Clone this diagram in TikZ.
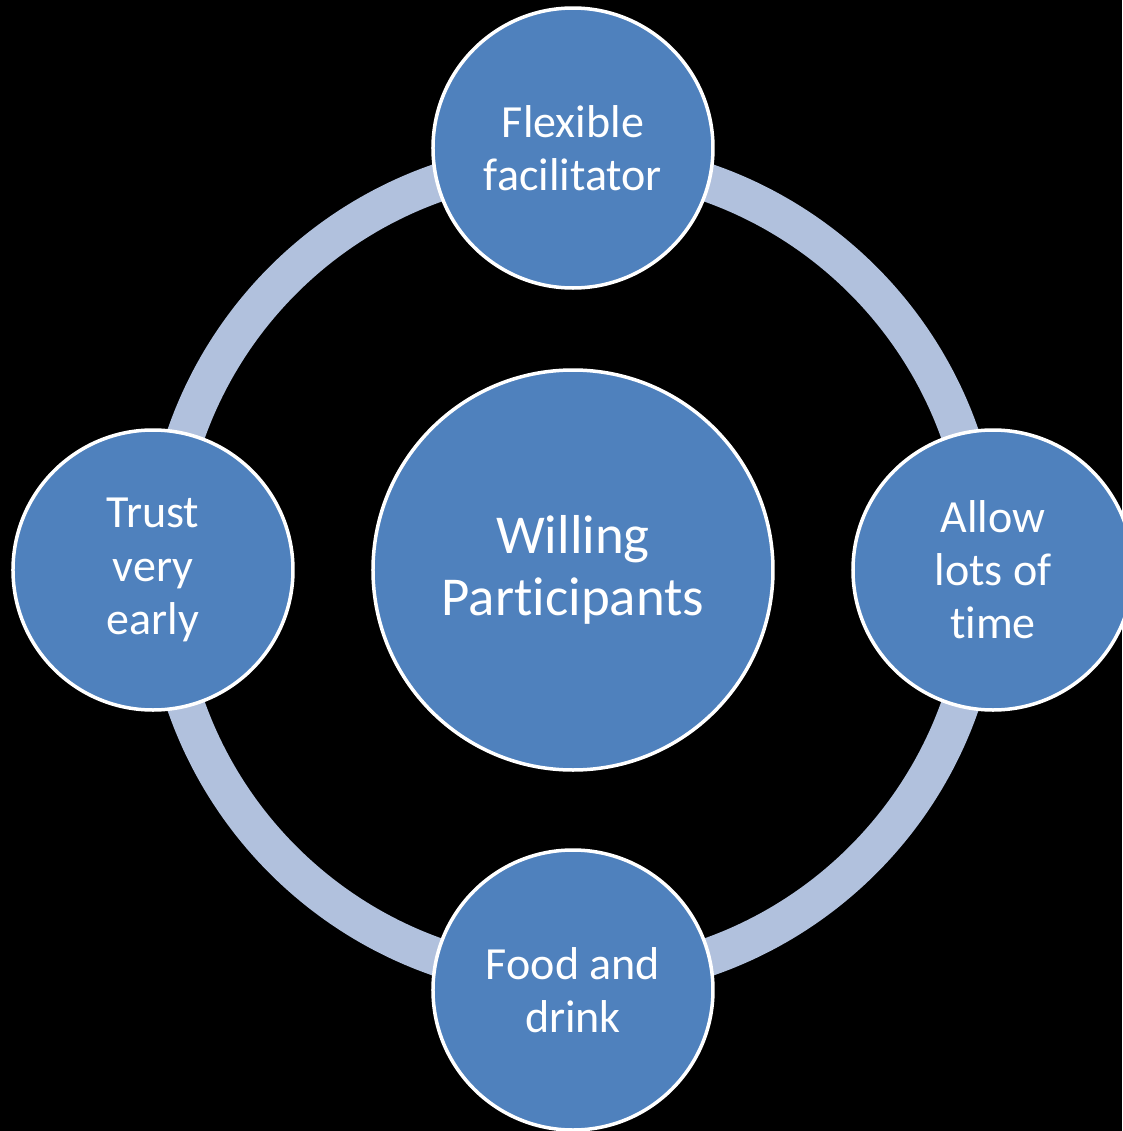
\documentclass[tikz,border=0pt]{standalone}
\usepackage{fontspec}
\setmainfont{Carlito}[Ligatures=NoCommon]
\usetikzlibrary{positioning}

\begin{document}
\begin{tikzpicture}[
        every node/.style={circle, draw=white, line width=0.035cm, fill=nodeblue,
            text=white, align=center, inner sep=0pt},
        hub/.style={minimum size=4cm, font=\fontsize{15.6}{17.6}\selectfont},
        spoke/.style={minimum size=2.8cm, font=\fontsize{13.1}{15.1}\selectfont},
        ring/.style={draw=ringblue, line width=0.38cm},
    ]
        % Color palette
        \definecolor{nodeblue}{RGB}{79,129,189}
        \definecolor{ringblue}{RGB}{177,193,221}
        % Background
        \fill[black] (-5.73,-5.61) rectangle (5.49,5.70);
        \useasboundingbox (-5.73,-5.61) rectangle (5.49,5.70);
        % Centre
        \node[hub] (willing) at (0,0) {Willing\\Participants};
        % Ring
        \draw[ring] (willing.center) circle[radius=4.1];
        % Outer circles
        \node[spoke] (flexible) at (0,4.22) {Flexible\\facilitator};
        \node[spoke] (time) at (4.2,0) {Allow\\lots of\\time};
        \node[spoke] (food) at (0,-4.2) {Food and\\drink};
        \node[spoke] (trust) at (-4.2,0) {Trust\\very\\early};

    \end{tikzpicture}
\end{document}
